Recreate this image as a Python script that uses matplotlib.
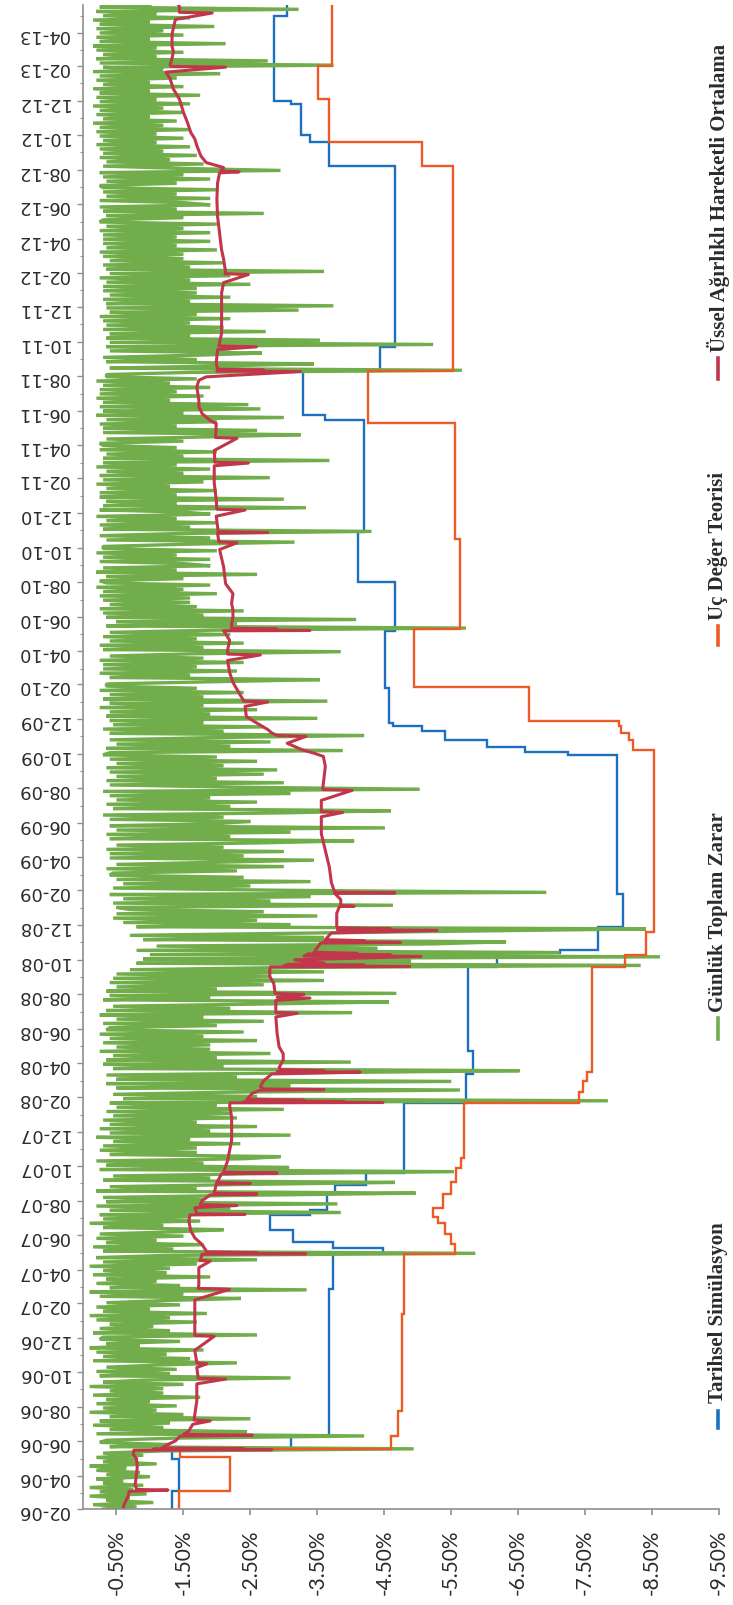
import numpy as np
import pandas as pd
import matplotlib
matplotlib.use('Agg')
import matplotlib.pyplot as plt
import matplotlib.dates as mdates
from matplotlib.lines import Line2D
from matplotlib.ticker import FixedLocator, FuncFormatter

# chart is drawn turned on its side: value axis across the bottom, dates up the left
START = pd.Timestamp('2006-02-01')
END = pd.Timestamp('2013-05-20')

series_names = ['Tarihsel Simülasyon', 'Günlük Toplam Zarar',
                'Uç Değer Teorisi', 'Üssel Ağırlıklı Hareketli Ortalama']

# Tarihsel Simulasyon VaR (%), level starts at month offset (months after 02-06)
hs_month = [0.0, 1.1, 3.0, 3.55, 4.3, 12.8, 15.0, 15.3, 15.6, 16.3, 17.2, 17.5,
            18.4, 18.9, 19.6, 23.7, 25.4, 26.7, 31.6, 32.4, 32.6, 33.9, 35.8,
            43.9, 44.1, 44.4, 44.8, 45.3, 45.6, 45.8, 47.8, 51.2, 54.0, 56.9,
            63.5, 63.8, 66.3, 67.7, 78.2, 79.6, 80.0, 81.8, 82.0, 87.0]
hs_var = [-1.33, -1.43, -1.33, -3.10, -3.68, -3.74, -4.48, -3.74, -3.13, -2.80, -3.39, -3.65,
          -3.76, -4.22, -4.80, -5.72, -5.83, -5.75, -6.18, -7.12, -7.70, -8.07, -7.97,
          -7.24, -6.60, -6.03, -5.40, -5.06, -4.63, -4.57, -4.51, -4.66, -4.11, -4.20,
          -3.62, -3.28, -4.43, -4.66, -3.68, -3.39, -3.25, -3.10, -2.85, -3.05]

# Uc Deger Teorisi VaR (%)
evt_month = [0.0, 1.1, 3.1, 3.55, 4.3, 5.8, 11.4, 14.9, 15.5, 16.1, 16.7, 17.1, 17.6,
             18.4, 19.1, 19.9, 20.5, 23.7, 24.3, 25.0, 25.5, 31.6, 32.3, 33.6, 44.2,
             44.8, 45.2, 45.6, 45.9, 47.9, 51.3, 56.5, 63.3, 66.3, 78.2, 79.6, 82.1, 84.0]
evt_var = [-1.43, -2.19, -1.45, -4.60, -4.71, -4.76, -4.80, -5.55, -5.49, -5.40, -5.31, -5.23, -5.37,
           -5.49, -5.57, -5.65, -5.69, -7.41, -7.47, -7.53, -7.60, -8.10, -8.41, -8.53, -8.21,
           -8.16, -8.04, -8.00, -6.66, -4.94, -5.63, -5.55, -4.25, -5.52, -5.06, -3.68, -3.51, -3.72]

# Ussel Agirlikli Hareketli Ortalama VaR (%)
ewma_month = [0.0, 0.23, 0.72, 1.11, 1.18, 1.22, 1.5, 2.47, 2.99, 3.24, 3.5, 3.53, 3.56, 3.59,
              3.63, 3.8, 4.02, 4.3, 4.35, 4.4, 4.6, 4.99, 5.2, 5.25, 5.57, 6.35, 7.32, 7.6,
              7.65, 8.29, 8.5, 8.55, 9.27, 10.1, 10.15, 11.21, 12.18, 12.8, 12.85, 13.15,
              14.12, 14.5, 14.55, 14.9, 14.93, 14.97, 15.0, 15.05, 15.48, 15.87, 16.26,
              16.84, 17.2, 17.23, 17.27, 17.62, 17.75, 17.8, 18.01, 18.35, 18.4, 18.45,
              18.98, 19.0, 19.05, 19.56, 19.6, 19.65, 20.34, 20.92, 21.5, 22.86, 23.54,
              23.68, 23.7, 23.73, 23.76, 23.8, 23.83, 23.9, 24.22, 24.4, 24.43, 24.47,
              24.61, 25.0, 25.39, 25.5, 25.53, 25.58, 25.65, 25.78, 26.17, 26.55, 26.94,
              27.72, 28.69, 28.9, 28.95, 29.66, 29.8, 29.85, 30.0, 30.05, 30.63, 31.02,
              31.41, 31.58, 31.6, 31.64, 31.68, 31.72, 31.8, 31.99, 32.2, 32.24, 32.28,
              32.33, 32.38, 32.45, 32.77, 32.98, 33.0, 33.04, 33.1, 33.16, 33.55, 33.7,
              33.74, 33.78, 33.85, 33.93, 34.71, 35.08, 35.1, 35.14, 35.49, 35.85, 35.88,
              35.92, 36.46, 37.43, 38.4, 39.38, 40.35, 40.6, 40.65, 41.32, 41.9, 41.95,
              42.29, 43.26, 43.84, 44.04, 44.23, 44.62, 45.0, 45.05, 45.2, 45.4, 45.79,
              46.17, 46.76, 47.0, 47.05, 47.14, 47.53, 48.12, 48.7, 49.48, 49.8, 49.85,
              50.06, 50.64, 51.03, 51.2, 51.22, 51.26, 51.3, 51.36, 51.61, 52.0, 52.39,
              52.78, 53.36, 53.94, 54.91, 55.89, 56.3, 56.35, 56.86, 56.9, 56.95, 57.83,
              58.2, 58.25, 58.8, 59.77, 60.74, 60.9, 60.95, 61.71, 62.4, 62.45, 63.27,
              63.46, 63.85, 64.24, 64.63, 65.4, 65.79, 65.99, 66.28, 66.32, 66.36, 66.42,
              66.77, 67.54, 67.7, 67.75, 68.51, 69.48, 70.45, 70.84, 71.43, 71.9, 71.95,
              72.01, 72.79, 73.37, 74.34, 75.31, 76.28, 77.25, 77.84, 77.9, 77.95, 78.13,
              78.42, 78.81, 79.39, 79.78, 80.17, 80.75, 81.33, 82.11, 82.69, 83.28, 83.66,
              83.95, 83.99, 84.05, 84.44, 84.83, 85.22, 85.94, 86.77, 87.16, 87.2, 87.54, 87.74]
ewma_var = [-0.60, -0.61, -0.67, -0.69, -1.27, -0.80, -0.78, -0.81, -0.80, -0.75, -0.76, -2.82, -1.05, -2.40,
            -1.18, -1.25, -1.38, -1.45, -2.53, -1.50, -1.58, -1.64, -1.90, -1.66, -1.67, -1.70, -1.70, -2.13,
            -1.72, -1.70, -1.85, -1.70, -1.67, -1.96, -1.67, -1.67, -1.67, -2.19, -1.72, -1.73,
            -1.73, -1.90, -1.75, -1.78, -3.33, -1.95, -2.60, -1.85, -1.78, -1.67, -1.61,
            -1.58, -1.60, -2.42, -1.70, -1.67, -2.30, -1.75, -1.78, -1.90, -2.60, -1.96,
            -1.99, -2.50, -2.00, -2.07, -2.90, -2.10, -2.16, -2.19, -2.22, -2.22, -2.19,
            -2.20, -4.48, -2.40, -3.90, -2.50, -3.30, -2.45, -2.53, -2.65, -3.60, -2.70,
            -2.65, -2.70, -2.82, -4.14, -2.90, -3.60, -2.95, -2.93, -2.99, -2.99, -2.93,
            -2.90, -2.88, -3.20, -2.88, -2.88, -3.39, -2.90, -3.30, -2.87, -2.85, -2.79,
            -2.79, -2.80, -4.88, -3.00, -4.20, -3.05, -3.60, -3.16, -5.05, -3.30, -4.60,
            -3.35, -4.10, -3.45, -3.51, -3.55, -4.74, -3.60, -4.20, -3.62, -3.71, -5.29,
            -3.80, -4.60, -3.80, -3.79, -3.79, -3.83, -4.05, -3.85, -3.85, -3.76, -4.66,
            -3.76, -3.71, -3.68, -3.62, -3.56, -3.56, -3.88, -3.56, -3.56, -4.02, -3.58,
            -3.59, -3.62, -3.59, -3.45, -3.28, -3.05, -3.33, -2.90, -2.82, -2.76, -2.59,
            -2.44, -2.42, -2.76, -2.40, -2.39, -2.33, -2.24, -2.19, -2.16, -2.65, -2.16,
            -2.16, -2.19, -2.13, -2.10, -3.39, -2.25, -2.90, -2.22, -2.22, -2.24, -2.24,
            -2.22, -2.24, -2.13, -2.10, -2.04, -2.30, -2.03, -2.01, -2.76, -2.02, -1.99,
            -2.42, -2.00, -1.99, -1.96, -1.96, -2.47, -1.97, -1.96, -2.30, -1.98, -1.99,
            -1.90, -1.78, -1.73, -1.73, -1.70, -1.73, -1.84, -3.25, -2.00, -2.70, -2.01,
            -1.99, -2.01, -2.59, -2.03, -2.07, -2.07, -2.07, -2.07, -2.10, -2.47, -2.12,
            -2.13, -2.10, -2.07, -2.04, -2.01, -2.00, -2.01, -2.04, -2.33, -2.06, -2.10,
            -1.84, -1.76, -1.70, -1.67, -1.61, -1.56, -1.50, -1.44, -1.35, -1.30, -1.24,
            -2.13, -1.32, -1.30, -1.33, -1.35, -1.33, -1.33, -1.38, -1.93, -1.44, -1.44, -1.41]

# Gunluk Toplam Zarar (%), about 8 readings per month, 02-06 .. 05-13
green_loss = [
    # 2006
    -0.3, -0.8, -0.15, -1.05, -0.35, -0.7, -0.1, -0.95,
    -0.25, -0.75, -0.1, -0.9, -0.3, -0.6, -0.2, -1.0,
    -0.35, -0.85, -0.2, -0.65, -0.1, -1.1, -0.3, -0.8,
    -0.2, -0.9, -0.3, -1.15, -4.94, -0.4, -1.3, -0.25,
    -0.35, -1.4, -4.2, -0.2, -2.45, -0.4, -1.2, -0.15,
    -1.3, -0.25, -2.5, -0.4, -1.5, -0.1, -1.1, -0.3,
    -1.4, -0.2, -1.0, -0.35, -1.75, -0.15, -1.2, -0.4,
    -1.2, -0.1, -1.5, -0.3, -0.9, -3.1, -0.25, -1.3,
    -0.2, -1.4, -0.35, -1.1, -2.3, -0.15, -1.6, -0.3,
    -1.25, -0.2, -1.8, -0.1, -0.85, -0.35, -1.45, -0.25,
    -0.3, -2.6, -0.15, -1.3, -0.25, -1.05, -0.4, -1.7,
    # 2007
    -0.2, -1.3, -0.1, -1.85, -0.3, -1.0, -0.2, -1.45,
    -0.35, -1.2, -2.36, -0.25, -1.5, -0.1, -3.34, -0.4,
    -1.45, -0.2, -1.1, -0.35, -1.9, -0.15, -1.25, -0.3,
    -1.3, -0.1, -1.7, -0.3, -2.6, -0.2, -1.2, -5.86,
    -0.3, -1.35, -0.15, -1.8, -0.35, -1.1, -0.2, -1.5,
    -0.25, -1.4, -2.1, -0.3, -1.2, -0.1, -1.75, -0.3,
    -1.6, -0.25, -3.85, -0.4, -2.2, -0.2, -3.8, -0.35,
    -1.8, -0.3, -2.4, -4.97, -0.2, -1.7, -0.4, -2.3,
    -4.66, -0.3, -1.9, -0.45, -2.5, -5.54, -0.25, -3.08,
    -0.35, -1.8, -0.2, -2.4, -2.95, -0.4, -1.7, -0.25,
    -1.7, -0.3, -2.35, -0.45, -1.6, -0.2, -3.1, -0.4,
    -1.9, -0.25, -2.6, -0.4, -1.7, -0.3, -2.3, -0.45,
    # 2008
    -2.2, -0.35, -3.0, -0.5, -2.0, -0.4, -7.84, -0.6,
    -2.6, -0.45, -2.2, -5.63, -0.5, -3.1, -0.35, -5.5,
    -0.5, -2.3, -0.35, -3.3, -6.52, -0.45, -2.1, -0.3,
    -4.0, -0.35, -2.0, -0.45, -2.8, -0.25, -1.9, -0.5,
    -1.9, -0.3, -2.6, -0.4, -1.8, -0.25, -2.4, -0.35,
    -0.4, -2.0, -0.3, -2.7, -0.5, -1.8, -0.25, -4.02,
    -0.35, -2.2, -0.45, -2.6, -4.57, -0.3, -1.9, -0.4,
    -4.68, -0.35, -2.0, -0.5, -2.7, -0.4, -3.6, -0.45,
    -2.8, -0.5, -3.6, -0.7, -3.0, -8.33, -0.8, -4.9,
    -0.9, -8.62, -1.0, -7.12, -0.8, -4.4, -1.1, -5.2,
    -6.32, -0.9, -3.6, -0.7, -3.2, -5.8, -8.41, -0.8,
    -3.1, -0.6, -2.6, -0.45, -3.5, -0.5, -2.7, -0.7,
    # 2009
    -0.5, -4.63, -0.45, -2.8, -0.6, -3.4, -0.4, -6.92,
    -2.9, -0.45, -2.5, -0.6, -3.4, -0.5, -2.4, -0.4,
    -0.45, -2.3, -0.35, -3.0, -0.5, -2.0, -3.45, -0.4,
    -2.4, -0.4, -3.0, -0.35, -2.1, -0.5, -2.6, -4.05,
    -0.4, -2.2, -0.35, -3.1, -0.5, -4.51, -0.4, -2.0,
    -2.5, -0.4, -2.1, -0.3, -3.0, -4.6, -0.45, -2.2,
    -0.35, -2.6, -0.5, -1.9, -0.4, -3.1, -0.3, -5.03,
    -2.2, -0.4, -3.0, -0.35, -2.0, -0.5, -2.7, -0.4,
    -2.9, -0.35, -2.1, -0.5, -2.6, -0.4, -2.0, -0.3,
    -0.4, -3.88, -0.35, -2.2, -0.5, -2.8, -0.4, -1.9,
    -4.2, -0.4, -2.1, -0.3, -2.7, -0.45, -1.8, -0.4,
    -3.5, -0.35, -1.9, -0.4, -2.6, -0.25, -1.8, -0.4,
    # 2010
    -3.65, -0.3, -1.8, -0.4, -2.4, -0.25, -1.7, -0.35,
    -0.35, -1.9, -3.54, -0.4, -1.6, -0.25, -2.3, -0.3,
    -1.7, -0.3, -2.4, -0.25, -1.8, -0.4, -1.6, -3.85,
    -0.3, -1.8, -0.25, -2.4, -0.4, -1.7, -0.3, -2.2,
    -0.4, -1.9, -5.72, -0.35, -2.3, -0.5, -4.08, -0.35,
    -1.8, -0.3, -2.4, -0.25, -1.7, -0.4, -1.6, -0.3,
    -1.6, -0.25, -2.0, -0.3, -1.5, -0.2, -1.9, -0.35,
    -0.25, -1.5, -0.35, -2.6, -0.2, -1.4, -0.3, -1.9,
    -1.5, -0.25, -1.9, -0.3, -1.4, -0.2, -2.0, -0.3,
    -0.3, -1.5, -3.16, -0.35, -1.9, -0.25, -1.4, -4.31,
    -0.3, -1.6, -0.25, -2.0, -0.35, -1.4, -0.2, -1.9,
    -1.5, -0.25, -3.33, -0.3, -1.4, -0.35, -3.0, -0.25,
    # 2011
    -1.4, -0.25, -2.0, -0.35, -1.3, -0.2, -1.8, -0.3,
    -2.79, -0.25, -1.5, -0.35, -1.9, -0.2, -1.4, -0.3,
    -3.68, -0.3, -1.5, -0.35, -2.0, -0.25, -1.4, -0.3,
    -0.25, -1.5, -0.35, -1.9, -3.25, -0.3, -2.6, -0.3,
    -1.4, -0.25, -2.0, -0.35, -3.0, -0.2, -1.5, -0.3,
    -2.65, -0.25, -2.47, -0.3, -1.3, -0.2, -1.8, -0.25,
    -1.4, -0.25, -1.9, -0.3, -1.3, -0.2, -1.7, -0.35,
    -0.35, -1.6, -5.66, -0.4, -2.0, -3.45, -0.35, -1.7,
    -0.3, -1.7, -2.67, -0.4, -2.2, -0.35, -5.23, -0.4,
    -3.54, -0.35, -1.6, -0.4, -2.73, -0.3, -2.1, -0.35,
    -1.6, -0.3, -2.2, -0.25, -1.7, -0.4, -3.22, -0.35,
    -3.74, -0.35, -1.6, -0.3, -2.2, -0.4, -1.7, -0.3,
    # 2012
    -1.7, -0.3, -2.5, -0.35, -1.6, -0.25, -2.2, -0.4,
    -3.6, -0.35, -1.6, -0.3, -2.1, -0.4, -1.5, -0.3,
    -1.5, -0.25, -2.0, -0.35, -1.4, -0.3, -1.9, -0.3,
    -1.4, -0.3, -1.9, -0.25, -1.5, -0.35, -2.0, -0.25,
    -0.3, -1.5, -0.35, -2.7, -0.3, -1.4, -0.25, -1.9,
    -1.5, -0.25, -1.9, -0.35, -1.4, -0.3, -2.0, -0.3,
    -0.25, -1.4, -0.35, -1.9, -0.3, -1.5, -0.25, -2.95,
    -1.4, -0.3, -1.8, -0.35, -1.3, -0.25, -1.7, -0.3,
    -1.2, -0.25, -1.6, -0.2, -1.1, -0.3, -1.5, -0.25,
    -1.1, -0.2, -1.6, -0.25, -1.2, -0.15, -1.4, -0.3,
    -1.0, -0.2, -1.5, -0.25, -1.2, -0.15, -1.6, -0.25,
    -1.1, -0.2, -1.75, -0.25, -1.0, -0.15, -1.5, -0.3,
    # 2013
    -1.0, -0.2, -1.4, -0.25, -2.05, -0.15, -1.2, -0.3,
    -3.74, -0.25, -2.76, -0.2, -1.1, -0.3, -1.5, -0.2,
    -1.1, -0.15, -2.13, -0.25, -1.0, -0.2, -1.5, -0.25,
    -1.2, -0.2, -1.96, -0.25, -1.0, -0.15, -1.6, -0.3,
    -1.1, -0.2, -3.22, -0.25, -1.0,
]

value_ticks = [-0.5, -1.5, -2.5, -3.5, -4.5, -5.5, -6.5, -7.5, -8.5, -9.5]


def month_dates(months):
    out = []
    for m in months:
        whole = int(m)
        out.append(START + pd.DateOffset(months=whole) + pd.Timedelta(days=(m - whole) * 30.4))
    return out


def step_path(months, levels):
    d = month_dates(list(months) + [87.75])
    ys = np.repeat(np.array(d, dtype='datetime64[ns]'), 2)[1:-1]
    xs = np.repeat(np.array(levels), 2)
    return xs, ys


c_blue = '#1f6fc1'
c_green = '#72ad4b'
c_orange = '#ee5a26'
c_red = '#c2364b'
c_axis = '#8f8f8f'
c_text = '#2b2b2b'

fig = plt.figure(figsize=(7.33, 16.05), dpi=100)
ax = fig.add_axes([83 / 733, 1 - 1509 / 1605, (719 - 83) / 733, (1509 - 5) / 1605])

xb, yb = step_path(hs_month, hs_var)
ax.plot(xb, yb, color=c_blue, lw=1.7, solid_joinstyle='miter')

green_dates = pd.date_range(START, END, periods=len(green_loss))
ax.plot(green_loss, green_dates, color=c_green, lw=2.4, solid_joinstyle='bevel')

xo, yo = step_path(evt_month, evt_var)
ax.plot(xo, yo, color=c_orange, lw=1.7, solid_joinstyle='miter')

ax.plot(ewma_var, month_dates(ewma_month), color=c_red, lw=2.2)

ax.set_xlim(0, -9.5)
ax.set_ylim(START, END)

ax.xaxis.set_major_locator(FixedLocator(value_ticks))
ax.xaxis.set_major_formatter(FuncFormatter(lambda v, p: f'{v:.2f}%'))
ax.yaxis.set_major_locator(mdates.MonthLocator(bymonth=[2, 4, 6, 8, 10, 12]))
ax.yaxis.set_minor_locator(mdates.MonthLocator())
ax.yaxis.set_major_formatter(mdates.DateFormatter('%m-%y'))

for side in ['top', 'right']:
    ax.spines[side].set_visible(False)
for side in ['left', 'bottom']:
    ax.spines[side].set_color(c_axis)
    ax.spines[side].set_linewidth(1.2)

ax.tick_params(axis='x', direction='out', length=4, width=1.2, color=c_axis, pad=11,
               labelrotation=90, labelsize=15, labelcolor=c_text)
ax.tick_params(axis='y', which='major', direction='out', length=4, width=1.0, color=c_axis,
               pad=6, labelrotation=180, labelsize=13, labelcolor=c_text)
ax.tick_params(axis='y', which='minor', direction='out', length=2.5, width=0.8, color=c_axis)
for lab in ax.get_xticklabels():
    lab.set_fontfamily('Lato')
for lab in ax.get_yticklabels():
    lab.set_fontfamily('DejaVu Sans')

# legend, turned like the rest of the chart
legend_rows = [
    (series_names[0], c_blue, 1428, 1411, 1403),
    (series_names[1], c_green, 1039, 1018, 1012),
    (series_names[2], c_orange, 645, 626, 620),
    (series_names[3], c_red, 379, 358, 352),
]
lx = 718 / 733
for name, col, m0, m1, t0 in legend_rows:
    fig.add_artist(Line2D([lx, lx], [1 - m0 / 1605, 1 - m1 / 1605], color=col, lw=2.6,
                          transform=fig.transFigure))
    fig.text(lx, 1 - t0 / 1605, name, rotation=90, rotation_mode='anchor',
             ha='left', va='center', fontsize=15, fontweight='bold',
             family='Liberation Serif', color=c_text)

fig.savefig('out.png', dpi=100)
